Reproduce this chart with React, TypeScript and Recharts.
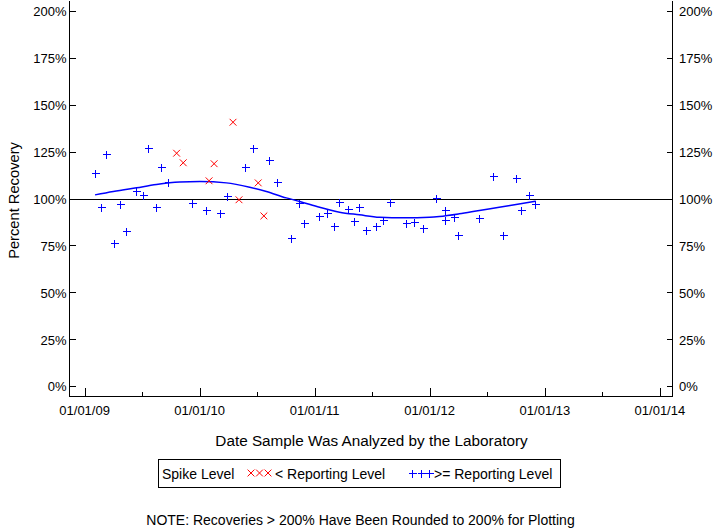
import { ComposedChart, Scatter, XAxis, YAxis, ReferenceLine } from "recharts";

const BLUE = "#0000ff";
const RED = "#ff0000";
const FONT = "'Liberation Sans', Arial, sans-serif";

// >= reporting level (blue +)
const aboveDates = [
  "2009-02-03", "2009-02-23", "2009-03-11", "2009-04-05", "2009-04-22", "2009-05-13", "2009-06-13",
  "2009-07-05", "2009-07-22", "2009-08-16", "2009-08-31", "2009-09-23", "2009-12-08",
  "2010-01-21", "2010-03-07", "2010-03-29", "2010-05-24", "2010-06-19", "2010-08-09", "2010-09-04",
  "2010-10-17", "2010-11-13", "2010-11-28",
  "2011-01-15", "2011-02-09", "2011-03-03", "2011-03-21", "2011-04-16", "2011-05-05", "2011-05-21",
  "2011-06-14", "2011-07-15", "2011-08-05", "2011-08-28", "2011-10-17", "2011-11-12", "2011-12-10",
  "2012-01-20", "2012-02-18", "2012-02-19", "2012-03-17", "2012-03-31", "2012-06-05", "2012-07-21",
  "2012-08-20", "2012-10-02", "2012-10-16", "2012-11-12", "2012-12-01",
];
const aboveValues = [
  114, 95.6, 124.1, 76.5, 97.4, 82.9, 104.5, 102.4, 127.3, 95.6, 117.2, 108.8, 98.0,
  94.4, 92.8, 101.7, 117.2, 127.3, 120.9, 109.0, 79.1, 98.0, 87.3,
  91.0, 92.6, 85.7, 98.3, 94.8, 88.4, 95.6, 83.5, 85.5, 88.9, 98.3, 87.3, 87.5, 84.5,
  100.4, 94.2, 88.9, 90.3, 80.7, 89.8, 112.4, 80.7, 111.1, 94.2, 101.9, 97.2,
];

// < reporting level (red x)
const belowDates = [
  "2009-10-20", "2009-11-10", "2010-01-31", "2010-02-16", "2010-04-17", "2010-05-06", "2010-07-06", "2010-07-24",
];
const belowValues = [124.4, 119.3, 109.7, 118.8, 140.9, 99.6, 108.6, 91.0];

// smoothed trend line
const trendDates = [
  "2009-02-03", "2009-04-02", "2009-06-15", "2009-08-17", "2009-10-30", "2010-01-02", "2010-03-27",
  "2010-06-09", "2010-08-01", "2010-10-03", "2010-11-15", "2011-01-17", "2011-03-21", "2011-05-23",
  "2011-07-26", "2011-10-13", "2012-01-01", "2012-02-01", "2012-04-04", "2012-06-07", "2012-08-09",
  "2012-10-11", "2012-12-03",
];
const trendValues = [
  102.2, 104.0, 106.0, 107.7, 109.0, 109.3, 108.6, 106.3, 104.0, 100.6, 98.7, 95.6, 93.0, 91.6,
  90.3, 90.0, 90.3, 90.7, 92.1, 93.9, 95.6, 97.4, 98.8,
];

const yTicks = [0, 25, 50, 75, 100, 125, 150, 175, 200];
const majorTickDates = ["2009-01-01", "2010-01-01", "2011-01-01", "2012-01-01", "2013-01-01", "2014-01-01"];
const majorTickLabels = ["01/01/09", "01/01/10", "01/01/11", "01/01/12", "01/01/13", "01/01/14"];
const minorTickDates = ["2009-07-01", "2010-07-01", "2011-07-01", "2012-07-01", "2013-07-01"];

const toTime = (s: string) => Date.parse(s + "T00:00:00Z");

const above = aboveDates.map((d, i) => ({ x: toTime(d), y: aboveValues[i] }));
const below = belowDates.map((d, i) => ({ x: toTime(d), y: belowValues[i] }));
const trend = trendDates.map((d, i) => ({ x: toTime(d), y: trendValues[i] }));

const majorTimes = majorTickDates.map(toTime);
const xTicks = [...majorTimes, ...minorTickDates.map(toTime)].sort((a, b) => a - b);
const xDomain = [toTime("2008-11-14"), toTime("2014-02-10")];

const Plus = (props: any) => {
  const { cx, cy } = props;
  if (cx == null || cy == null) return <g />;
  const x = Math.round(cx) + 0.5;
  const y = Math.round(cy) + 0.5;
  return (
    <g stroke={BLUE} strokeWidth={1} shapeRendering="crispEdges">
      <line x1={x - 4} x2={x + 4} y1={y} y2={y} />
      <line x1={x} x2={x} y1={y - 4} y2={y + 4} />
    </g>
  );
};

const Cross = (props: any) => {
  const { cx, cy } = props;
  if (cx == null || cy == null) return <g />;
  return (
    <g stroke={RED} strokeWidth={1}>
      <line x1={cx - 3.4} x2={cx + 3.4} y1={cy - 3.4} y2={cy + 3.4} />
      <line x1={cx - 3.4} x2={cx + 3.4} y1={cy + 3.4} y2={cy - 3.4} />
    </g>
  );
};

const LeftTick = (props: any) => {
  const { x, y, payload } = props;
  return (
    <g>
      <line x1={x} x2={x + 6} y1={y} y2={y} stroke="#000" shapeRendering="crispEdges" />
      <text x={x - 3} y={y + 4.7} textAnchor="end" fontSize={13} fontFamily={FONT} fill="#000">
        {payload.value}%
      </text>
    </g>
  );
};

const RightTick = (props: any) => {
  const { x, y, payload } = props;
  return (
    <g>
      <line x1={x - 6} x2={x} y1={y} y2={y} stroke="#000" shapeRendering="crispEdges" />
      <text x={x + 6.5} y={y + 4.7} textAnchor="start" fontSize={13} fontFamily={FONT} fill="#000">
        {payload.value}%
      </text>
    </g>
  );
};

const BottomTick = (props: any) => {
  const { x, y, payload } = props;
  const idx = majorTimes.indexOf(payload.value);
  const major = idx >= 0;
  const px = Math.round(x) + 0.5;
  return (
    <g>
      <line x1={px} x2={px} y1={y} y2={y - (major ? 9 : 5)} stroke="#000" shapeRendering="crispEdges" />
      {major && (
        <text x={x} y={y + 18.5} textAnchor="middle" fontSize={13} fontFamily={FONT} fill="#000">
          {majorTickLabels[idx]}
        </text>
      )}
    </g>
  );
};

const axisStroke = { stroke: "#000", shapeRendering: "crispEdges" };

const App = () => {
  return (
    <div style={{ position: "absolute", left: 0, top: 0, width: 720, height: 528, background: "#fff", fontFamily: FONT }}>
      <ComposedChart
        width={720}
        height={528}
        margin={{ top: 0.5, right: 0, left: 0.5, bottom: 101.5 }}
      >
        <XAxis
          xAxisId="bottom"
          dataKey="x"
          type="number"
          domain={xDomain}
          allowDataOverflow
          ticks={xTicks}
          interval={0}
          tickSize={0}
          tickMargin={0}
          tickLine={false}
          tick={<BottomTick />}
          axisLine={axisStroke}
          height={30}
        />
        <XAxis
          xAxisId="top"
          orientation="top"
          dataKey="x"
          type="number"
          domain={xDomain}
          allowDataOverflow
          tick={false}
          tickLine={false}
          axisLine={axisStroke}
          height={0}
        />
        <YAxis
          yAxisId="left"
          dataKey="y"
          type="number"
          domain={[-5.2, 205.75]}
          allowDataOverflow
          ticks={yTicks}
          interval={0}
          tickSize={0}
          tickMargin={0}
          tickLine={false}
          tick={<LeftTick />}
          axisLine={axisStroke}
          width={69}
        />
        <YAxis
          yAxisId="right"
          orientation="right"
          dataKey="y"
          type="number"
          domain={[-5.2, 205.75]}
          allowDataOverflow
          ticks={yTicks}
          interval={0}
          tickSize={0}
          tickMargin={0}
          tickLine={false}
          tick={<RightTick />}
          axisLine={axisStroke}
          width={47.5}
        />
        <ReferenceLine
          xAxisId="bottom"
          yAxisId="left"
          y={100}
          stroke="#000"
          strokeWidth={1}
          shapeRendering="crispEdges"
        />
        <Scatter
          xAxisId="bottom"
          yAxisId="left"
          data={trend}
          line={{ stroke: BLUE, strokeWidth: 1.5 }}
          lineJointType="monotoneX"
          shape={() => <g />}
          isAnimationActive={false}
        />
        <Scatter
          xAxisId="bottom"
          yAxisId="left"
          data={above}
          shape={<Plus />}
          isAnimationActive={false}
        />
        <Scatter
          xAxisId="bottom"
          yAxisId="left"
          data={below}
          shape={<Cross />}
          isAnimationActive={false}
        />
      </ComposedChart>
      <svg
        width={720}
        height={528}
        style={{ position: "absolute", left: 0, top: 0, pointerEvents: "none" }}
        fontFamily={FONT}
      >
        <text x={371.5} y={445.5} textAnchor="middle" fontSize={15.3} fill="#000">
          Date Sample Was Analyzed by the Laboratory
        </text>
        <text transform="translate(19,200.5) rotate(-90)" textAnchor="middle" fontSize={14.7} fill="#000">
          Percent Recovery
        </text>
        <rect x={158.5} y={459.5} width={402} height={28} fill="none" stroke="#000" />
        <text x={162} y={479} fontSize={14} fill="#000">Spike Level</text>
        {[251, 259.5, 268].map((cx) => (
          <Cross key={cx} cx={cx} cy={473} />
        ))}
        <text x={275} y={479} fontSize={14} fill="#000">&lt; Reporting Level</text>
        {[412, 420.5, 429].map((cx) => (
          <Plus key={cx} cx={cx} cy={472.5} />
        ))}
        <text x={434} y={479} fontSize={14} fill="#000">&gt;= Reporting Level</text>
        <text x={360.5} y={525} textAnchor="middle" fontSize={14} fill="#000">
          NOTE: Recoveries &gt; 200% Have Been Rounded to 200% for Plotting
        </text>
      </svg>
    </div>
  );
};

export default App;
